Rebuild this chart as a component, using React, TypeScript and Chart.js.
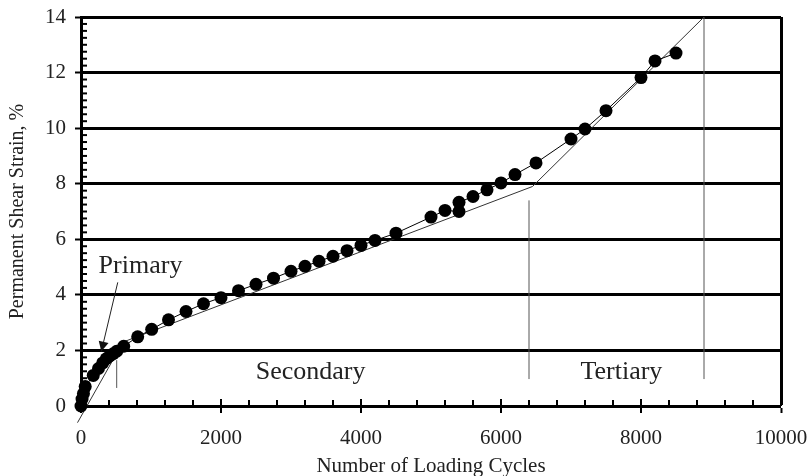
import React, { useEffect, useRef } from "react";
import { Chart, registerables } from "chart.js";

Chart.register(...registerables);

// Measured data (cycles, permanent shear strain %)
const cycles = [
  0, 15, 35, 60, 175, 250, 310, 360, 410, 460, 510, 610, 810, 1010, 1250, 1500, 1750, 2000,
  2250, 2500, 2750, 3000, 3200, 3400, 3600, 3800, 4000, 4200, 4500, 5000, 5200, 5400, 5400,
  5600, 5800, 6000, 6200, 6500, 7000, 7200, 7500, 8000, 8200, 8500,
];
const strain = [
  0, 0.25, 0.45, 0.7, 1.1, 1.35, 1.55, 1.7, 1.8, 1.88, 1.97, 2.15, 2.49, 2.76, 3.1, 3.4, 3.68, 3.9,
  4.15, 4.38, 4.6, 4.85, 5.03, 5.21, 5.39, 5.59, 5.78, 5.96, 6.22, 6.8, 7.04, 7.0, 7.33,
  7.54, 7.78, 8.03, 8.33, 8.75, 9.61, 9.97, 10.63, 11.82, 12.42, 12.7,
];

// Piecewise fitted stages line
const fitX = [-50, 600, 6450, 8900];
const fitY = [-0.6, 2.3, 7.9, 14];

// Stage boundary markers
const boundaryX = [510, 6400, 8900];
const boundaryTop = [1.65, 7.4, 14];
const boundaryBottom = [0.65, 0.97, 0.97];

// Stage labels
const stageLabels = ["Primary", "Secondary", "Tertiary"];
const stageLabelX = [850, 3280, 7720];
const stageLabelY = [5.03, 1.22, 1.22];

// Primary arrow (tail -> head)
const arrowX = [525, 290];
const arrowY = [4.45, 1.96];

const xTicks = [0, 2000, 4000, 6000, 8000, 10000];
const yTicks = [0, 2, 4, 6, 8, 10, 12, 14];

const FONT = "'Liberation Serif', 'Times New Roman', serif";

const decorPlugin = {
  id: "decor",
  afterDraw(chart: any) {
    const { ctx, chartArea } = chart;
    const x = chart.scales.x;
    const y = chart.scales.y;
    ctx.save();
    ctx.strokeStyle = "#000";
    // x minor ticks (inside)
    ctx.lineWidth = 2;
    for (let v = 0; v <= 10000; v += 400) {
      const px = x.getPixelForValue(v);
      ctx.beginPath();
      ctx.moveTo(px, chartArea.bottom);
      ctx.lineTo(px, chartArea.bottom - (v % 2000 === 0 ? 7 : 6));
      ctx.stroke();
    }
    // y minor ticks (inside)
    for (let v = 0; v <= 14; v += 0.25) {
      const py = y.getPixelForValue(v);
      ctx.beginPath();
      ctx.moveTo(chartArea.left, py);
      ctx.lineTo(chartArea.left + 6, py);
      ctx.stroke();
    }
    // stage boundaries
    ctx.strokeStyle = "#555";
    ctx.lineWidth = 1;
    for (let i = 0; i < boundaryX.length; i++) {
      const px = x.getPixelForValue(boundaryX[i]);
      ctx.beginPath();
      ctx.moveTo(px, y.getPixelForValue(boundaryTop[i]));
      ctx.lineTo(px, y.getPixelForValue(boundaryBottom[i]));
      ctx.stroke();
    }
    // arrow
    const x0 = x.getPixelForValue(arrowX[0]);
    const y0 = y.getPixelForValue(arrowY[0]);
    const x1 = x.getPixelForValue(arrowX[1]);
    const y1 = y.getPixelForValue(arrowY[1]);
    ctx.strokeStyle = "#222";
    ctx.fillStyle = "#111";
    ctx.beginPath();
    ctx.moveTo(x0, y0);
    ctx.lineTo(x1, y1);
    ctx.stroke();
    const ang = Math.atan2(y1 - y0, x1 - x0);
    const L = 10;
    const W = 5;
    ctx.beginPath();
    ctx.moveTo(x1, y1);
    ctx.lineTo(x1 - L * Math.cos(ang) + W * Math.sin(ang), y1 - L * Math.sin(ang) - W * Math.cos(ang));
    ctx.lineTo(x1 - L * Math.cos(ang) - W * Math.sin(ang), y1 - L * Math.sin(ang) + W * Math.cos(ang));
    ctx.closePath();
    ctx.fill();
    // labels
    ctx.fillStyle = "#222";
    ctx.font = `26px ${FONT}`;
    ctx.textAlign = "center";
    ctx.textBaseline = "middle";
    for (let i = 0; i < stageLabels.length; i++) {
      ctx.fillText(stageLabels[i], x.getPixelForValue(stageLabelX[i]), y.getPixelForValue(stageLabelY[i]));
    }
    ctx.restore();
  },
};

export default function App() {
  const ref = useRef<HTMLCanvasElement | null>(null);
  useEffect(() => {
    if (!ref.current) return;
    const chart = new Chart(ref.current, {
      type: "scatter",
      data: {
        datasets: [
          {
            type: "line",
            data: fitX.map((v, i) => ({ x: v, y: fitY[i] })),
            borderColor: "#333",
            borderWidth: 1,
            pointRadius: 0,
            fill: false,
            clip: false,
            order: 2,
          } as any,
          {
            type: "line",
            data: cycles.map((v, i) => ({ x: v, y: strain[i] })),
            borderColor: "#000",
            borderWidth: 1,
            backgroundColor: "#000",
            pointBackgroundColor: "#000",
            pointBorderColor: "#000",
            pointRadius: 6.5,
            pointBorderWidth: 0,
            fill: false,
            clip: false,
            order: 1,
          } as any,
        ],
      },
      options: {
        animation: false,
        responsive: false,
        maintainAspectRatio: false,
        layout: { padding: { top: 17, right: 31, bottom: -3, left: 0 } },
        plugins: { legend: { display: false }, tooltip: { enabled: false } },
        scales: {
          x: {
            type: "linear",
            min: 0,
            max: 10000,
            afterBuildTicks: (s: any) => {
              s.ticks = xTicks.map((v) => ({ value: v }));
            },
            afterFit: (s: any) => {
              s.height = 73;
              s.paddingLeft = 0;
              s.paddingRight = 0;
            },
            ticks: {
              color: "#222",
              font: { family: FONT, size: 21 },
              padding: 13,
              maxRotation: 0,
              callback: (v: any) => String(v),
            },
            grid: {
              drawOnChartArea: true,
              color: "#000",
              lineWidth: (c: any) => (c.tick && c.tick.value === 10000 ? 3 : 0),
              tickColor: "#000",
              tickWidth: 2,
              tickLength: 7,
            },
            border: { display: true, color: "#000", width: 3 },
            title: {
              display: true,
              text: "Number of Loading Cycles",
              color: "#222",
              font: { family: FONT, size: 21 },
              padding: { top: 0, bottom: 0 },
            },
          },
          y: {
            type: "linear",
            min: 0,
            max: 14,
            afterBuildTicks: (s: any) => {
              s.ticks = yTicks.map((v) => ({ value: v }));
            },
            afterFit: (s: any) => {
              s.width = 81;
              s.paddingTop = 0;
              s.paddingBottom = 0;
            },
            ticks: {
              color: "#222",
              font: { family: FONT, size: 21 },
              padding: 9,
              callback: (v: any) => String(v),
            },
            grid: {
              color: "#000",
              lineWidth: 3,
              tickColor: "#000",
              tickWidth: 2,
              tickLength: 6,
            },
            border: { display: true, color: "#000", width: 3 },
            title: {
              display: true,
              text: "Permanent Shear Strain, %",
              color: "#222",
              font: { family: FONT, size: 20 },
              padding: { top: 6, bottom: 0 },
            },
          },
        },
      } as any,
      plugins: [decorPlugin],
    });
    return () => chart.destroy();
  }, []);
  return (
    <div style={{ position: "absolute", left: 0, top: 0, width: 812, height: 476, background: "#fff" }}>
      <canvas ref={ref} width={812} height={476} style={{ width: 812, height: 476 }} />
    </div>
  );
}
